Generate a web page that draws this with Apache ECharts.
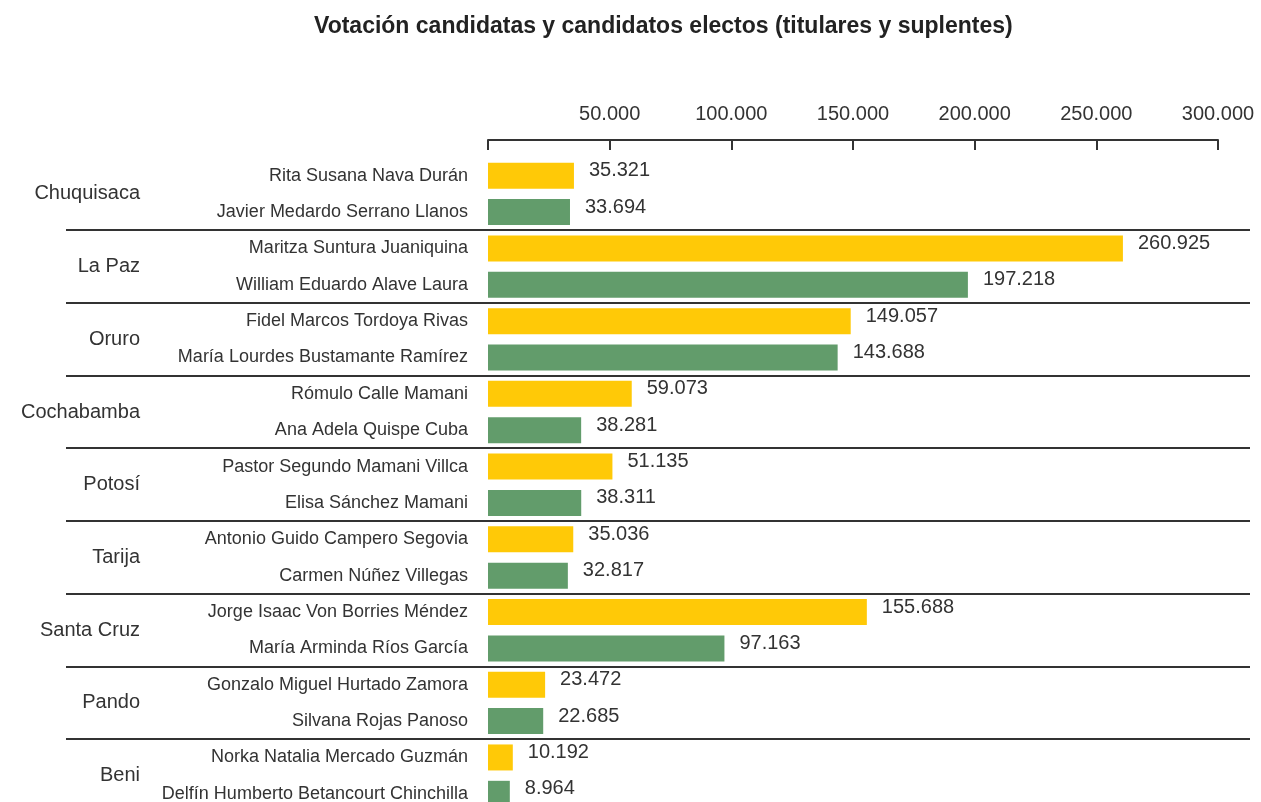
<!DOCTYPE html>
<html>
<head>
<meta charset="utf-8">
<script src="https://cdn.jsdelivr.net/npm/echarts@6/dist/echarts.min.js"></script>
<style>
	html, body { margin: 0; padding: 0; background: #fff; overflow: hidden; }
	#main { width: 1261px; height: 812px; }
</style>
</head>
<body>
<div id="main"></div>
<script>
var departamentos = ['Chuquisaca', 'La Paz', 'Oruro', 'Cochabamba', 'Potosí', 'Tarija', 'Santa Cruz', 'Pando', 'Beni'];
var candidatos = [
	'Rita Susana Nava Durán', 'Javier Medardo Serrano Llanos',
	'Maritza Suntura Juaniquina', 'William Eduardo Alave Laura',
	'Fidel Marcos Tordoya Rivas', 'María Lourdes Bustamante Ramírez',
	'Rómulo Calle Mamani', 'Ana Adela Quispe Cuba',
	'Pastor Segundo Mamani Villca', 'Elisa Sánchez Mamani',
	'Antonio Guido Campero Segovia', 'Carmen Núñez Villegas',
	'Jorge Isaac Von Borries Méndez', 'María Arminda Ríos García',
	'Gonzalo Miguel Hurtado Zamora', 'Silvana Rojas Panoso',
	'Norka Natalia Mercado Guzmán', 'Delfín Humberto Betancourt Chinchilla'
];
var votos = [35321, 33694, 260925, 197218, 149057, 143688, 59073, 38281, 51135, 38311, 35036, 32817, 155688, 97163, 23472, 22685, 10192, 8964];
var colores = ['#FFC907', '#629C6B'];

var fuente = 'Liberation Sans';

function fmt(v) {
	return String(v).replace(/\B(?=(\d{3})+(?!\d))/g, '.');
}

var myChart = echarts.init(document.getElementById('main'));

myChart.setOption({
	animation: false,
	title: {
		text: 'Votación candidatas y candidatos electos (titulares y suplentes)',
		left: 309,
		top: 10,
		textStyle: { fontFamily: fuente, fontSize: 23, fontWeight: 'bold', color: '#222' }
	},
	grid: { left: 488, right: 43, top: 157.5, height: 654.5 },
	xAxis: {
		type: 'value',
		position: 'top',
		min: 0,
		max: 300000,
		interval: 50000,
		splitLine: { show: false },
		axisLine: { show: true, onZero: false, lineStyle: { color: '#333', width: 2 } },
		axisTick: { show: true, inside: true, length: 10, lineStyle: { color: '#333', width: 2 } },
		axisLabel: {
			margin: 16,
			fontFamily: fuente, fontSize: 20, color: '#333',
			formatter: function (v) { return v === 0 ? '' : fmt(v); }
		},
		offset: 17.5
	},
	yAxis: [{
		type: 'category',
		data: candidatos,
		inverse: true,
		axisLine: { show: false },
		axisTick: { show: false },
		axisLabel: { margin: 20, fontFamily: fuente, fontSize: 18, color: '#333' }
	}, {
		type: 'category',
		data: departamentos,
		inverse: true,
		position: 'left',
		offset: 340,
		axisLine: { show: false },
		axisTick: { show: false },
		axisLabel: { margin: 8, fontFamily: fuente, fontSize: 20, color: '#333' }
	}],
	series: [{
		type: 'bar',
		yAxisIndex: 0,
		data: votos,
		barWidth: 26,
		itemStyle: {
			color: function (p) { return colores[p.dataIndex % 2]; }
		},
		label: {
			show: true,
			position: 'right',
			distance: 15,
			offset: [0, -5],
			fontFamily: fuente, fontSize: 20, color: '#333',
			formatter: function (p) { return fmt(p.value); }
		}
	}]
});

// separadores entre departamentos
var lineas = [];
for (var i = 2; i < candidatos.length; i += 2) {
	var y1 = myChart.convertToPixel({ yAxisIndex: 0 }, candidatos[i - 1]);
	var y2 = myChart.convertToPixel({ yAxisIndex: 0 }, candidatos[i]);
	var y = Math.round((y1 + y2) / 2);
	lineas.push({
		type: 'line',
		shape: { x1: 66, y1: y, x2: 1250, y2: y },
		style: { stroke: '#333', lineWidth: 2 }
	});
}
myChart.setOption({ graphic: lineas });
</script>
</body>
</html>
